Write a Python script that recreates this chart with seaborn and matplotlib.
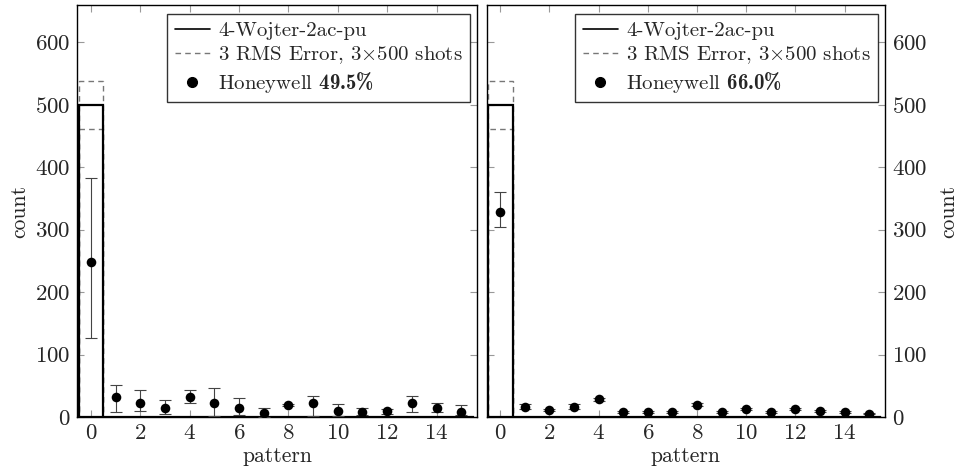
import numpy as np
import pandas as pd
import seaborn as sns
import matplotlib
matplotlib.use("Agg")
import matplotlib.pyplot as plt
from matplotlib.lines import Line2D

sns.set_theme(style="white")
plt.rcParams['font.family'] = ['cmr10', 'DejaVu Serif']
plt.rcParams['mathtext.fontset'] = 'custom'
plt.rcParams['mathtext.rm'] = 'cmr10'
plt.rcParams['mathtext.bf'] = 'cmb10'
plt.rcParams['mathtext.fallback'] = 'cm'
plt.rcParams['axes.formatter.use_mathtext'] = True

patterns = list(range(16))
ideal = [500] + [0] * 15
rms_upper = [539] + [0] * 15
rms_lower = [461] + [0] * 15

left_vals = [248, 32, 22, 14, 32, 23, 15, 7, 19, 22, 10, 8.5, 9, 23, 14, 8.5]
left_low = [126, 8.5, 10, 5, 23, 2, 3, 0.5, 17, 2, 2, 3, 5, 8.5, 7.5, 3]
left_high = [383, 51, 44, 28, 44, 47, 31, 14, 21, 34, 21, 14, 13, 34, 23, 19]

right_vals = [329, 16.5, 11.7, 16.5, 28.7, 7.4, 7.4, 7.4, 19.7, 7.4, 12.2, 8, 12.8, 9.6, 7.4, 5.3]
right_low = [305, 13, 10, 13, 26, 6, 6, 6, 17, 6, 10.5, 6.5, 11, 8, 6, 4]
right_high = [360, 21, 13.5, 21, 31, 9, 9, 9, 22, 9, 14, 9.5, 14.5, 11, 9, 6.5]

labels = ["Honeywell $\\mathbf{49.5\\%}$", "Honeywell $\\mathbf{66.0\\%}$"]

fig = plt.figure(figsize=(9.61, 4.70), dpi=100)
ax1 = fig.add_axes([0.0806, 0.1128, 0.4160, 0.8766])
ax2 = fig.add_axes([0.5065, 0.1128, 0.4145, 0.8766])

FS_TICK = 16.5
FS_LEG = 15
FS_LAB = 15.5
for i, (ax, vals, lo, hi, lab) in enumerate(zip(
        [ax1, ax2], [left_vals, right_vals], [left_low, right_low],
        [left_high, right_high], labels)):
    ax.bar(patterns, rms_upper, width=1.0, fill=False, edgecolor='#777777',
           linestyle=(0, (4, 3)), linewidth=1.0, zorder=1)
    ax.bar(patterns, rms_lower, width=1.0, fill=False, edgecolor='#777777',
           linestyle=(0, (4, 3)), linewidth=1.0, zorder=1)
    ax.bar(patterns, ideal, width=1.0, fill=False, edgecolor='black',
           linewidth=1.6, zorder=2)
    v = np.array(vals)
    yerr = np.vstack([v - np.array(lo), np.array(hi) - v])
    ax.errorbar(patterns, v, yerr=yerr, fmt='none', ecolor='#444444',
                elinewidth=0.8, capsize=4, capthick=0.8, zorder=3)
    df = pd.DataFrame({'pattern': patterns, 'count': vals})
    sns.scatterplot(data=df, x='pattern', y='count', ax=ax, color='black',
                    s=48, edgecolor='black', linewidth=0, zorder=4, legend=False)
    ax.set_xlim(-0.55, 15.65)
    ax.set_ylim(0, 660)
    ax.set_xticks(range(0, 16, 2))
    ax.set_yticks(range(0, 700, 100))
    ax.tick_params(axis='both', which='both', direction='in', color='#999999',
                   length=5, width=0.8, top=True, bottom=True, left=True,
                   right=True, labelsize=FS_TICK, pad=5)
    ax.set_xlabel('pattern', fontsize=FS_LAB, labelpad=2)
    ax.set_ylabel('count', fontsize=FS_LAB)
    for s in ax.spines.values():
        s.set_color('black')
        s.set_linewidth(1.0)
    handles = [
        Line2D([], [], color='black', linewidth=1.2),
        Line2D([], [], color='#777777', linewidth=1.0, linestyle=(0, (4, 3))),
        Line2D([], [], color='black', marker='o', linestyle='none', markersize=7),
    ]
    leg = ax.legend(handles, ['4-Wojter-2ac-pu', '3 RMS Error, 3$\\times$500 shots', lab],
                    loc='upper right', bbox_to_anchor=(0.983, 0.978), fontsize=FS_LEG,
                    frameon=True, fancybox=False, handlelength=1.7,
                    handletextpad=0.4, borderpad=0.35, labelspacing=0.2,
                    borderaxespad=0.0)
    leg.get_frame().set_edgecolor('black')
    leg.get_frame().set_linewidth(1.0)

ax1.tick_params(labelleft=True, labelright=False)
ax2.tick_params(labelleft=False, labelright=True)
ax2.yaxis.set_label_position('right')
ax2.set_ylabel('count', fontsize=FS_LAB, labelpad=8)

fig.savefig('out.png', dpi=100)
